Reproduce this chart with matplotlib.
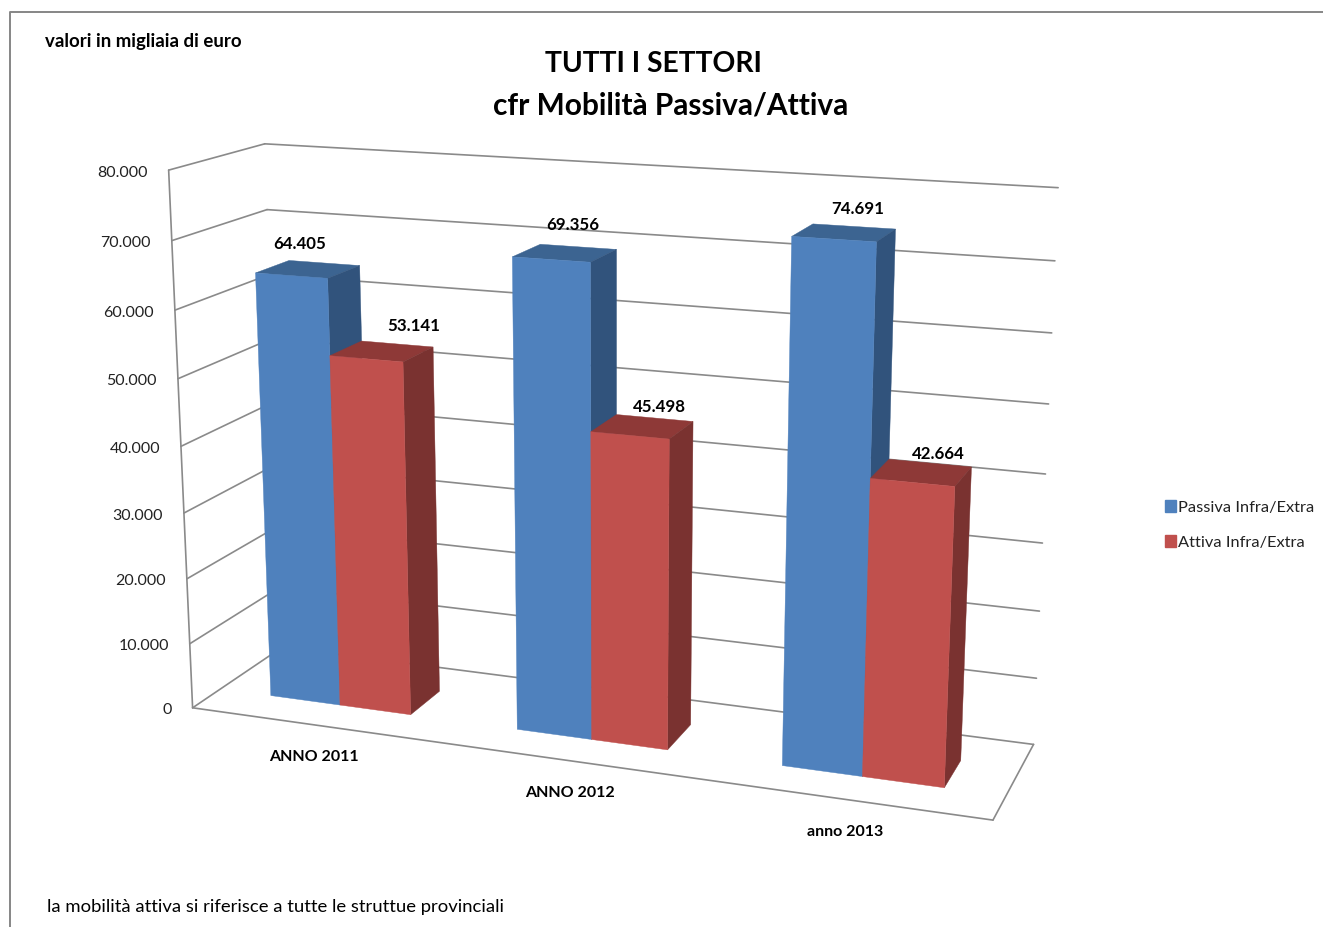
import numpy as np
import matplotlib
matplotlib.use("Agg")
import matplotlib.pyplot as plt
from matplotlib.patches import Polygon, Patch

plt.rcParams['font.family'] = ['Lato', 'DejaVu Sans']

categories = ['ANNO 2011', 'ANNO 2012', 'anno 2013']
passiva = [64405, 69356, 74691]
attiva = [53141, 45498, 42664]
series_names = ['Passiva Infra/Extra', 'Attiva Infra/Extra']
y_ticks = [0, 10000, 20000, 30000, 40000, 50000, 60000, 70000, 80000]
y_max = 80000

def it(v):
    return f'{v:,}'.replace(',', '.')

# camera fit: world (width, depth, value fraction) -> picture pixel
calib = [
    (0, 0, 0, 192, 709), (1, 0, 0, 993, 820), (0, 1, 0, 283, 647), (1, 1, 0, 1033, 744),
    (0, 0, 1, 169, 171), (0, 1, 1, 264, 143.5), (1, 1, 1, 1058, 187),
    (0, 0, .875, 172, 241), (0, 1, .875, 267, 210), (1, 1, .875, 1055, 261),
    (1, 1, .5, 1046, 475), (0, 0, .5, 181, 444)]
A = []
for X, Y, Z, u, v in calib:
    A.append([X, Y, Z, 1, 0, 0, 0, 0, -u*X, -u*Y, -u*Z, -u])
    A.append([0, 0, 0, 0, X, Y, Z, 1, -v*X, -v*Y, -v*Z, -v])
P = np.linalg.svd(np.array(A, float))[2][-1].reshape(3, 4)

def pr(X, Y, value):
    p = P @ np.array([X, Y, value / y_max, 1.0])
    return p[:2] / p[2]

BLUE = ('#4F81BD', '#31537C', '#3C6491')
RED = ('#C0504D', '#7A3230', '#8E3937')
GRID = '#8A8A8A'
BAR_W = 0.096
DEPTH = (0.30, 0.665)

fig = plt.figure(figsize=(13.23, 9.27), dpi=100)
ax = fig.add_axes([0, 0, 1, 1])
ax.set_xlim(0, 1323)
ax.set_ylim(927, 0)
ax.axis('off')

def seg(a, b, lw=1.2):
    ax.plot([a[0], b[0]], [a[1], b[1]], color=GRID, lw=lw, solid_capstyle='round', zorder=1)

# outer frame
ax.plot([1323, 10, 10], [12, 12, 927], color='#868686', lw=1.4, zorder=1)

# walls and floor
for t in y_ticks:
    seg(pr(0, 0, t), pr(0, 1, t))
    seg(pr(0, 1, t), pr(1, 1, t))
    q = pr(0, 0, t)
    ax.text(q[0] - 21, q[1] + 2.5, it(t), ha='right', va='center', fontsize=11.5, color='#222222')
seg(pr(0, 0, 0), pr(0, 0, y_max))
seg(pr(0, 0, 0), pr(1, 0, 0))
seg(pr(1, 0, 0), pr(1, 1, 0))

def bar(x0, x1, v, cols, z):
    y0, y1 = DEPTH
    faces = [
        ([pr(x0, y0, v), pr(x1, y0, v), pr(x1, y1, v), pr(x0, y1, v)], cols[2]),
        ([pr(x1, y0, 0), pr(x1, y1, 0), pr(x1, y1, v), pr(x1, y0, v)], cols[1]),
        ([pr(x0, y0, 0), pr(x1, y0, 0), pr(x1, y0, v), pr(x0, y0, v)], cols[0]),
    ]
    for verts, c in faces:
        ax.add_patch(Polygon(np.array(verts), closed=True, fc=c, ec=c, lw=0.3, zorder=z))

label_xy_p = [(299.5, 244), (573, 225), (858, 209)]
label_xy_a = [(414, 326), (659, 407), (938, 454)]
cat_xy = [(313.5, 757), (570, 793), (845, 832)]

for i, cat in enumerate(categories):
    c = (i + 0.5) / 3
    bar(c - BAR_W, c, passiva[i], BLUE, 3 + 2*i)
    bar(c, c + BAR_W, attiva[i], RED, 4 + 2*i)
    ax.text(*label_xy_p[i], it(passiva[i]), ha='center', va='center', fontsize=12.2, fontweight='bold', color='black', zorder=20)
    ax.text(*label_xy_a[i], it(attiva[i]), ha='center', va='center', fontsize=12.2, fontweight='bold', color='black', zorder=20)
    ax.text(*cat_xy[i], cat, ha='center', va='center', fontsize=11.5, fontweight='bold', color='black')

ax.text(45, 41.5, 'valori in migliaia di euro', ha='left', va='center', fontsize=13.4, fontweight='bold', color='black')
ax.text(653.5, 64, 'TUTTI I SETTORI', ha='center', va='center', fontsize=20.3, fontweight='bold', color='black')
ax.text(671, 105.5, 'cfr Mobilità Passiva/Attiva', ha='center', va='center', fontsize=21.5, fontweight='bold', color='black')
ax.text(47, 907, 'la mobilità attiva si riferisce a tutte le struttue provinciali', ha='left', va='center', fontsize=13.3, color='black')

handles = [Patch(fc=BLUE[0], ec=BLUE[0], label=series_names[0]), Patch(fc=RED[0], ec=RED[0], label=series_names[1])]
ax.legend(handles=handles, loc='center left', bbox_to_anchor=(1165, 525), bbox_transform=ax.transData,
          frameon=False, fontsize=11.8, handlelength=0.7, handleheight=0.7, handletextpad=0.1,
          labelspacing=1.25, borderpad=0, borderaxespad=0, labelcolor='#222222')

fig.savefig('out.png', dpi=100)
